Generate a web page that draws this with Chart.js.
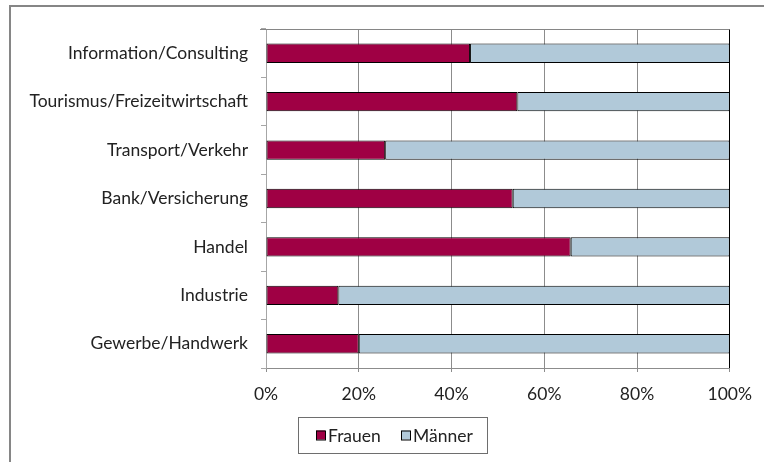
<!DOCTYPE html>
<html>
<head>
<meta charset="utf-8">
<script src="https://cdn.jsdelivr.net/npm/chart.js@4/dist/chart.umd.min.js"></script>
<style>
  html, body { margin: 0; padding: 0; background: #fff; }
  canvas { display: block; }
</style>
</head>
<body>
<canvas id="c" width="764" height="462"></canvas>
<script>
const categories = [
  "Information/Consulting",
  "Tourismus/Freizeitwirtschaft",
  "Transport/Verkehr",
  "Bank/Versicherung",
  "Handel",
  "Industrie",
  "Gewerbe/Handwerk"
];
const frauen = [44, 54.2, 25.7, 53.2, 65.7, 15.6, 20];
const maenner = [56, 45.8, 74.3, 46.8, 34.3, 84.4, 80];
const seriesNames = ["Frauen", "Männer"];
const seriesColors = ["#9F0044", "#B1C9D9"];
const FONT = "Lato, 'Open Sans', sans-serif";
const FSIZE = 17.5;

const framePlugin = {
  id: 'frame',
  beforeDraw(chart) {
    const ctx = chart.ctx;
    ctx.save();
    ctx.fillStyle = '#fff';
    ctx.fillRect(0, 0, chart.width, chart.height);
    ctx.strokeStyle = '#868686';
    ctx.lineWidth = 2;
    ctx.beginPath();
    ctx.moveTo(10, chart.height);
    ctx.lineTo(10, 6);
    ctx.lineTo(chart.width, 6);
    ctx.stroke();
    ctx.restore();
  },
  afterDraw(chart) {
    const ctx = chart.ctx;
    const a = chart.chartArea;
    ctx.save();
    // plot-area top border
    ctx.strokeStyle = '#868686';
    ctx.lineWidth = 1;
    ctx.beginPath();
    ctx.moveTo(a.left - 6, Math.round(a.top) + 0.5);
    ctx.lineTo(a.right, Math.round(a.top) + 0.5);
    ctx.stroke();
    // legend
    const bx = 298, by = 417, bw = 189, bh = 36;
    ctx.fillStyle = '#fff';
    ctx.fillRect(bx, by, bw, bh);
    ctx.strokeStyle = '#6e6e6e';
    ctx.strokeRect(bx + 0.5, by + 0.5, bw, bh);
    ctx.font = FSIZE + 'px ' + FONT;
    ctx.textBaseline = 'middle';
    ctx.textAlign = 'left';
    const items = chart.data.datasets;
    const xs = [316, 401];
    const cy = by + bh / 2;
    items.forEach((ds, i) => {
      const x = xs[i];
      ctx.fillStyle = ds.backgroundColor;
      ctx.fillRect(x, cy - 4.5, 9, 9);
      ctx.strokeStyle = '#000';
      ctx.strokeRect(x + 0.5, cy - 4.5 + 0.5, 9, 9);
      ctx.fillStyle = '#222';
      ctx.fillText(ds.label, x + 12, cy + 1);
    });
    ctx.restore();
  }
};

new Chart(document.getElementById('c'), {
  type: 'bar',
  data: {
    labels: categories,
    datasets: [
      { label: seriesNames[0], data: frauen, backgroundColor: seriesColors[0],
        borderColor: '#000', borderWidth: 1, borderSkipped: false,
        barPercentage: 0.4, categoryPercentage: 1 },
      { label: seriesNames[1], data: maenner, backgroundColor: seriesColors[1],
        borderColor: '#000', borderWidth: 1, borderSkipped: false,
        barPercentage: 0.4, categoryPercentage: 1 }
    ]
  },
  plugins: [framePlugin],
  options: {
    indexAxis: 'y',
    responsive: false,
    devicePixelRatio: 1,
    animation: false,
    layout: { padding: { top: 29, right: 32, left: 0, bottom: 0 } },
    plugins: { legend: { display: false }, tooltip: { enabled: false } },
    scales: {
      x: {
        stacked: true,
        min: 0, max: 100,
        afterFit(scale) { scale.height = 94; },
        ticks: {
          stepSize: 20,
          padding: 12,
          color: '#222',
          font: { family: FONT, size: FSIZE },
          callback: v => v + '%'
        },
        grid: {
          color: c => (c.tick && c.tick.value === 100) ? '#000' : '#8c8c8c',
          tickColor: '#8c8c8c',
          tickLength: 4,
          lineWidth: 1
        },
        border: { display: true, color: '#8c8c8c' }
      },
      y: {
        stacked: true,
        afterFit(scale) { scale.width = 266; },
        ticks: {
          padding: 13,
          color: '#222',
          font: { family: FONT, size: FSIZE }
        },
        grid: {
          offset: true,
          drawOnChartArea: false,
          tickLength: 5,
          color: '#a6a6a6'
        },
        border: { display: true, color: '#a6a6a6' }
      }
    }
  }
});
</script>
</body>
</html>
